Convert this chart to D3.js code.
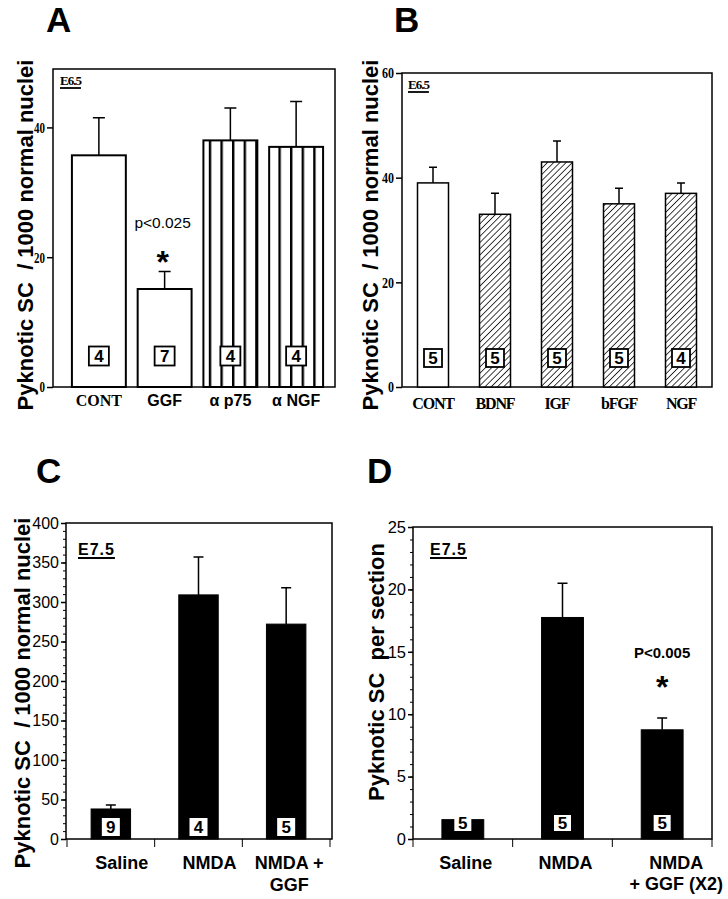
<!DOCTYPE html>
<html>
<head>
<meta charset="utf-8">
<script src="https://cdn.jsdelivr.net/npm/d3@7"></script>
<style>
  body { margin: 0; background: #fff; }
  svg text { fill: #000; }
</style>
</head>
<body>
<div id="chart"></div>
<script>
// panel A - E6.5 treatments
const catsA = ["CONT", "GGF", "α p75", "α NGF"];
const meanA = [35.7, 15.1, 38, 37];
const semA = [5.8, 2.7, 5, 7];
const nA = [4, 7, 4, 4];
const ticksA = [0, 20, 40];

// panel B - E6.5 growth factors
const catsB = ["CONT", "BDNF", "IGF", "bFGF", "NGF"];
const meanB = [39, 33, 43, 35, 37];
const semB = [3, 4, 4, 3, 2];
const nB = [5, 5, 5, 5, 4];
const ticksB = [0, 20, 40, 60];

// panel C - E7.5 NMDA, per 1000 nuclei
const catsC = [["Saline"], ["NMDA"], ["NMDA +", "GGF"]];
const meanC = [38, 309, 272];
const semC = [5, 48, 46];
const nC = [9, 4, 5];
const ticksC = [0, 50, 100, 150, 200, 250, 300, 350, 400];

// panel D - E7.5 NMDA, per section
const catsD = [["Saline"], ["NMDA"], ["NMDA", "+ GGF (X2)"]];
const meanD = [1.55, 17.75, 8.75];
const semD = [0.1, 2.75, 0.95];
const nD = [5, 5, 5];
const ticksD = [0, 5, 10, 15, 20, 25];

const W = 728, H = 899;
const sans = "'Liberation Sans', Arial, sans-serif";
const serif = "'Liberation Serif', 'Times New Roman', serif";

const svg = d3.select("#chart").append("svg")
    .attr("width", W).attr("height", H)
    .attr("viewBox", [0, 0, W, H])
    .style("font-family", sans);

const defs = svg.append("defs");
defs.append("pattern")
    .attr("id", "vstripe")
    .attr("patternUnits", "userSpaceOnUse")
    .attr("width", 11.6).attr("height", 10)
    .append("rect")
    .attr("x", 0).attr("y", 0).attr("width", 2.4).attr("height", 10)
    .attr("fill", "#000");
const hatch = defs.append("pattern")
    .attr("id", "hatch")
    .attr("patternUnits", "userSpaceOnUse")
    .attr("width", 4.4).attr("height", 4.4)
    .attr("patternTransform", "rotate(45)");
hatch.append("rect").attr("width", 4.4).attr("height", 4.4).attr("fill", "#fff");
hatch.append("line")
    .attr("x1", 0).attr("y1", 0).attr("x2", 0).attr("y2", 4.4)
    .attr("stroke", "#000").attr("stroke-width", 1.5);

function panel(cfg) {
    const g = svg.append("g");
    const x = d3.scaleBand().domain(d3.range(cfg.means.length))
        .range([cfg.x0, cfg.x1])
        .paddingInner(cfg.pad).paddingOuter(cfg.pad / 2);
    const y = d3.scaleLinear().domain(cfg.domain).range([cfg.yb, cfg.yt]);
    const [bx0, bx1] = cfg.box;

    // frame
    g.append("rect")
        .attr("x", bx0).attr("y", cfg.yt)
        .attr("width", bx1 - bx0).attr("height", cfg.yb - cfg.yt)
        .attr("fill", "none").attr("stroke", "#000").attr("stroke-width", 1.5);

    // minor ticks
    if (cfg.minor) {
        const minAx = g.append("g").attr("transform", `translate(${bx0},0)`)
            .call(d3.axisLeft(y).tickValues(cfg.minor).tickSize(3).tickFormat(""));
        minAx.select(".domain").remove();
        minAx.selectAll("line").attr("stroke-width", 1);
    }
    const ax = g.append("g").attr("transform", `translate(${bx0},0)`)
        .call(d3.axisLeft(y).tickValues(cfg.ticks).tickSize(cfg.tickLen).tickPadding(2));
    ax.select(".domain").remove();
    ax.attr("font-size", null).attr("font-family", null);
    ax.selectAll("line").attr("stroke-width", 1.5);
    const tt = ax.selectAll("text")
        .attr("font-family", cfg.tickFont)
        .attr("font-weight", cfg.tickWeight)
        .attr("font-size", cfg.tickSize)
        .attr("fill", "#000");
    if (cfg.tickDigitW) {
        // condensed serif digits as in the print
        tt.attr("textLength", d => String(d).length * cfg.tickDigitW)
          .attr("lengthAdjust", "spacingAndGlyphs");
    }

    // x axis ticks at band boundaries
    if (cfg.xTicks) {
        const edges = d3.range(cfg.means.length + 1).map(i => x.range()[0] + i * x.step());
        g.selectAll(".xt").data(edges).join("line")
            .attr("x1", d => d).attr("x2", d => d)
            .attr("y1", cfg.yb).attr("y2", cfg.yb + 8)
            .attr("stroke", "#000").attr("stroke-width", 1);
    }

    // error bars (upper only)
    const cw = cfg.capW;
    g.selectAll(".eb").data(cfg.means).join("path")
        .attr("d", (d, i) => {
            const cx = x(i) + x.bandwidth() / 2;
            const top = y(d + cfg.sem[i]);
            return `M${cx},${y(d)}V${top}M${cx - cw / 2},${top}H${cx + cw / 2}`;
        })
        .attr("fill", "none").attr("stroke", "#000").attr("stroke-width", 1.5);

    // bars
    g.selectAll(".bar").data(cfg.means).join("rect")
        .attr("x", (d, i) => x(i)).attr("width", x.bandwidth())
        .attr("y", d => y(d)).attr("height", d => y(0) - y(d))
        .attr("fill", (d, i) => cfg.fill[i])
        .attr("stroke", "#000").attr("stroke-width", cfg.barStroke);

    // n boxes
    const nb = g.selectAll(".nb").data(cfg.n).join("g")
        .attr("transform", (d, i) => `translate(${x(i) + x.bandwidth() / 2},${cfg.nY})`);
    nb.append("rect")
        .attr("x", -cfg.nW / 2).attr("y", -cfg.nH / 2)
        .attr("width", cfg.nW).attr("height", cfg.nH)
        .attr("fill", "#fff")
        .attr("stroke", cfg.nStroke ? "#000" : "none").attr("stroke-width", 1.8);
    nb.append("text")
        .attr("text-anchor", "middle").attr("dy", "0.36em")
        .attr("font-weight", "bold").attr("font-size", cfg.nFont)
        .text(d => d);

    // category labels
    const cl = g.selectAll(".cl").data(cfg.cats).join("text")
        .attr("x", (d, i) => x(i) + x.bandwidth() / 2 + (cfg.catShift ? cfg.catShift[i] : 0))
        .attr("y", cfg.catY)
        .attr("text-anchor", "middle")
        .attr("font-weight", "bold")
        .attr("font-size", cfg.catSize)
        .attr("letter-spacing", cfg.catSpacing || 0)
        .attr("font-family", (d, i) => cfg.catFont[i]);
    cl.selectAll("tspan").data(d => Array.isArray(d) ? d : [d]).join("tspan")
        .attr("x", function () { return this.parentNode.getAttribute("x"); })
        .attr("dy", (d, i) => i === 0 ? 0 : cfg.catLine)
        .text(d => d);

    // stage label, underlined
    const st = g.append("text")
        .attr("x", cfg.stage.x).attr("y", cfg.stage.y)
        .attr("font-family", cfg.stage.font).attr("font-weight", "bold")
        .attr("font-size", cfg.stage.size)
        .attr("letter-spacing", cfg.stage.spacing || 0)
        .text(cfg.stage.text);
    const sw = st.node().getComputedTextLength();
    g.append("line")
        .attr("x1", cfg.stage.x).attr("x2", cfg.stage.x + sw)
        .attr("y1", cfg.stage.y + 3).attr("y2", cfg.stage.y + 3)
        .attr("stroke", "#000").attr("stroke-width", 1.8);

    // y title
    g.append("text")
        .attr("transform", `translate(${cfg.title.x},${cfg.title.y}) rotate(-90)`)
        .attr("text-anchor", "middle")
        .attr("font-weight", "bold").attr("font-size", 22)
        .style("white-space", "pre")
        .text(cfg.title.text);

    // panel letter
    g.append("text")
        .attr("x", cfg.letter.x).attr("y", cfg.letter.y)
        .attr("font-weight", "bold").attr("font-size", 35)
        .text(cfg.letter.text);

    // significance mark
    if (cfg.sig) {
        const i = cfg.sig.i;
        const cx = x(i) + x.bandwidth() / 2 + (cfg.sig.dx || 0);
        g.append("text")
            .attr("x", cx).attr("y", cfg.sig.y)
            .attr("text-anchor", "middle")
            .attr("font-weight", cfg.sig.weight).attr("font-size", cfg.sig.size)
            .text(cfg.sig.text);
        g.append("text")
            .attr("x", cx).attr("y", cfg.sig.starY)
            .attr("text-anchor", "middle")
            .attr("font-weight", "bold").attr("font-size", 32)
            .text("*");
    }
    return g;
}

panel({
    means: meanA, sem: semA, n: nA, cats: catsA,
    x0: 66, x1: 329, pad: 0.18, box: [53, 335],
    domain: [0, 49], yb: 387, yt: 69, ticks: ticksA, tickLen: 6,
    tickFont: serif, tickWeight: "bold", tickSize: 15, tickDigitW: 5.5,
    capW: 12, barStroke: 2,
    fill: ["#fff", "#fff", "url(#vstripe)", "url(#vstripe)"],
    nY: 356, nW: 20, nH: 19, nStroke: true, nFont: 17,
    catY: 406, catSize: 16, catLine: 0,
    catFont: [serif, sans, sans, sans],
    stage: { x: 60, y: 85, text: "E6.5", font: serif, size: 13, spacing: -1 },
    title: { x: 33, y: 235, text: "Pyknotic SC  / 1000 normal nuclei" },
    letter: { x: 46, y: 32, text: "A" },
    sig: { i: 1, y: 228, text: "p<0.025", weight: "normal", size: 15.5, dx: -2, starY: 273 }
});

panel({
    means: meanB, sem: semB, n: nB, cats: catsB,
    x0: 402, x1: 712, pad: 0.5, box: [402, 712],
    domain: [0, 60], yb: 387, yt: 73, ticks: ticksB, tickLen: 6,
    tickFont: serif, tickWeight: "bold", tickSize: 15, tickDigitW: 6,
    capW: 8, barStroke: 1.5,
    fill: ["#fff", "url(#hatch)", "url(#hatch)", "url(#hatch)", "url(#hatch)"],
    nY: 358, nW: 18, nH: 18, nStroke: true, nFont: 17,
    catY: 409, catSize: 16, catLine: 0, catSpacing: -1.2,
    catFont: [serif, serif, serif, serif, serif],
    stage: { x: 408, y: 89, text: "E6.5", font: serif, size: 13, spacing: -1 },
    title: { x: 378, y: 235, text: "Pyknotic SC  / 1000 normal nuclei" },
    letter: { x: 394, y: 32, text: "B" }
});

panel({
    means: meanC, sem: semC, n: nC, cats: catsC,
    x0: 67, x1: 330, pad: 0.55, box: [66, 332],
    domain: [0, 400], yb: 839, yt: 523, ticks: ticksC, tickLen: 5,
    minor: d3.range(0, 401, 10),
    tickFont: sans, tickWeight: "normal", tickSize: 16,
    capW: 10, barStroke: 1, xTicks: true,
    fill: ["#000", "#000", "#000"],
    nY: 827, nW: 18, nH: 18, nStroke: false, nFont: 17,
    catY: 869, catSize: 18, catLine: 22, catShift: [11, 11, 3],
    catFont: [sans, sans, sans],
    stage: { x: 78, y: 555, text: "E7.5", font: sans, size: 16, spacing: 1 },
    title: { x: 30, y: 693, text: "Pyknotic SC  / 1000 normal nuclei" },
    letter: { x: 36, y: 483, text: "C" }
});

panel({
    means: meanD, sem: semD, n: nD, cats: catsD,
    x0: 413, x1: 712, pad: 0.58, box: [413, 712],
    domain: [0, 25], yb: 839, yt: 527, ticks: ticksD, tickLen: 5,
    minor: d3.range(0, 26, 1),
    tickFont: sans, tickWeight: "normal", tickSize: 16.5,
    capW: 10, barStroke: 1, xTicks: true,
    fill: ["#000", "#000", "#000"],
    nY: 823, nW: 17, nH: 16, nStroke: false, nFont: 17,
    catY: 869, catSize: 18, catLine: 21, catShift: [3, 3, 14],
    catFont: [sans, sans, sans],
    stage: { x: 430, y: 555, text: "E7.5", font: sans, size: 16, spacing: 1 },
    title: { x: 384, y: 672, text: "Pyknotic SC  per section" },
    letter: { x: 367, y: 483, text: "D" },
    sig: { i: 2, y: 658, text: "P<0.005", weight: "bold", size: 15, starY: 698 }
});
</script>
</body>
</html>
